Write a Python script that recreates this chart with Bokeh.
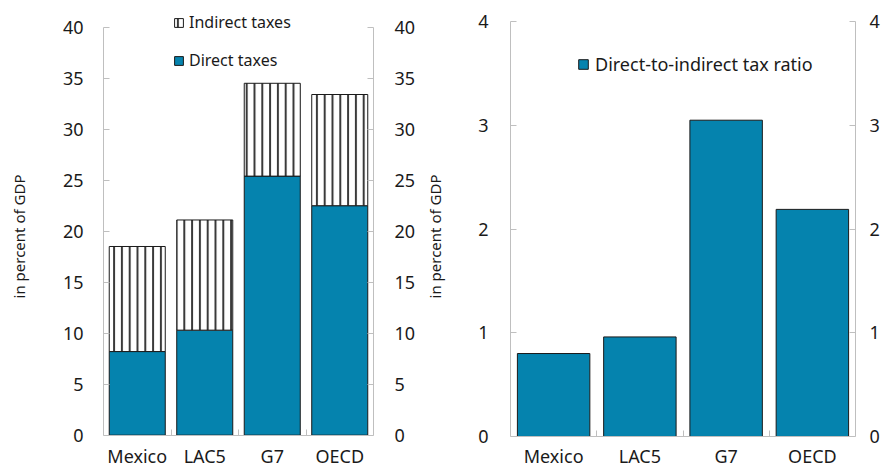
from bokeh.plotting import figure
from bokeh.models import (ColumnDataSource, Range1d, LinearAxis, FixedTicker,
                          Legend, LegendItem)
from bokeh.layouts import row
from bokeh.embed import file_html
from bokeh.resources import INLINE

# ---- data ----
categories = ["Mexico", "LAC5", "G7", "OECD"]
direct_taxes = [8.2, 10.3, 25.4, 22.5]
indirect_taxes = [10.3, 10.8, 9.1, 10.9]
tax_ratio = [0.80, 0.96, 3.05, 2.19]
left_ticks = [0, 5, 10, 15, 20, 25, 30, 35, 40]
right_ticks = [0, 1, 2, 3, 4]
axis_title = "in percent of GDP"

FONT = "Noto Sans"
TEAL = "#0583AE"
AXIS_GRAY = "#BFBFBF"
TEXT = "#1A1A1A"
EDGE = "#1A1A1A"

centers = [i + 0.5 for i in range(len(categories))]
bounds = list(range(1, len(categories)))
totals = [d + i for d, i in zip(direct_taxes, indirect_taxes)]

src = ColumnDataSource(dict(x=centers, cat=categories, direct=direct_taxes,
                            total=totals, ratio=tax_ratio))


def style_y(ax, ticks, standoff, label=None, label_standoff=0):
    ax.ticker = FixedTicker(ticks=ticks)
    ax.bounds = (ticks[0], ticks[-1])
    ax.axis_line_color = AXIS_GRAY
    ax.major_tick_line_color = AXIS_GRAY
    ax.major_tick_in = 6
    ax.major_tick_out = 0
    ax.minor_tick_line_color = None
    ax.major_label_text_font = FONT
    ax.major_label_text_font_size = "18px"
    ax.major_label_text_color = TEXT
    ax.major_label_standoff = standoff
    if label is not None:
        ax.axis_label = label
        ax.axis_label_standoff = label_standoff
        ax.axis_label_text_font = FONT
        ax.axis_label_text_font_size = "15px"
        ax.axis_label_text_font_style = "normal"
        ax.axis_label_text_color = TEXT


def style_x(ax, standoff):
    ax.fixed_location = 0
    ax.ticker = FixedTicker(ticks=centers, minor_ticks=bounds)
    ax.major_label_overrides = {c: cat for c, cat in zip(centers, categories)}
    ax.axis_line_color = AXIS_GRAY
    ax.major_tick_line_color = None
    ax.major_tick_in = 0
    ax.major_tick_out = 0
    ax.minor_tick_line_color = AXIS_GRAY
    ax.minor_tick_in = 6
    ax.minor_tick_out = 0
    ax.major_label_text_font = FONT
    ax.major_label_text_font_size = "18px"
    ax.major_label_text_color = TEXT
    ax.major_label_standoff = standoff


# ---- left chart ----
p1 = figure(width=422, height=472, x_range=Range1d(0, len(categories)),
            y_range=Range1d(-3.46, 42.42), output_backend="svg",
            toolbar_location=None,
            min_border_left=103, min_border_right=49, min_border_top=2,
            min_border_bottom=2)
p1.grid.visible = False
p1.outline_line_color = None

r_dir = p1.vbar(x="x", bottom=0, top="direct", width=0.83, source=src,
                fill_color=TEAL, line_color=EDGE, line_width=1)
r_ind = p1.vbar(x="x", bottom="direct", top="total", width=0.83, source=src,
                fill_color="white", line_color=EDGE, line_width=1,
                hatch_pattern="vertical_line", hatch_color="#3A3A3A",
                hatch_scale=7.8, hatch_weight=2)

style_y(p1.left[0], left_ticks, 20, axis_title, 31)
ax_r = LinearAxis()
p1.add_layout(ax_r, "right")
style_y(ax_r, left_ticks, 21)
style_x(p1.below[0], 9)

leg1 = Legend(items=[LegendItem(label="Indirect taxes", renderers=[r_ind]),
                     LegendItem(label="Direct taxes", renderers=[r_dir])],
              location=(70, 397), orientation="vertical",
              glyph_width=11, glyph_height=11, label_standoff=5, spacing=12,
              padding=0, margin=0, border_line_color=None,
              background_fill_alpha=0, label_text_font=FONT,
              label_text_font_size="16px", label_height=26,
              label_text_color=TEXT)
p1.add_layout(leg1)

# ---- right chart ----
p2 = figure(width=460, height=472, x_range=Range1d(0, len(categories)),
            y_range=Range1d(-0.328, 4.185), output_backend="svg",
            toolbar_location=None,
            min_border_left=87, min_border_right=26, min_border_top=2,
            min_border_bottom=2)
p2.grid.visible = False
p2.outline_line_color = None

r_ratio = p2.vbar(x="x", bottom=0, top="ratio", width=0.84, source=src,
                  fill_color=TEAL, line_color=EDGE, line_width=1)

style_y(p2.left[0], right_ticks, 22, axis_title, 30)
ax_r2 = LinearAxis()
p2.add_layout(ax_r2, "right")
style_y(ax_r2, right_ticks, 14)
style_x(p2.below[0], 8)

leg2 = Legend(items=[LegendItem(label="Direct-to-indirect tax ratio",
                                renderers=[r_ratio])],
              location=(67, 392.5), orientation="vertical",
              glyph_width=12, glyph_height=12, label_standoff=6,
              padding=0, margin=0, border_line_color=None,
              background_fill_alpha=0, label_text_font=FONT,
              label_text_font_size="18px", label_height=28,
              label_text_color=TEXT)
p2.add_layout(leg2)

layout = row(p1, p2)
open("out.html", "w").write(file_html(layout, INLINE))
